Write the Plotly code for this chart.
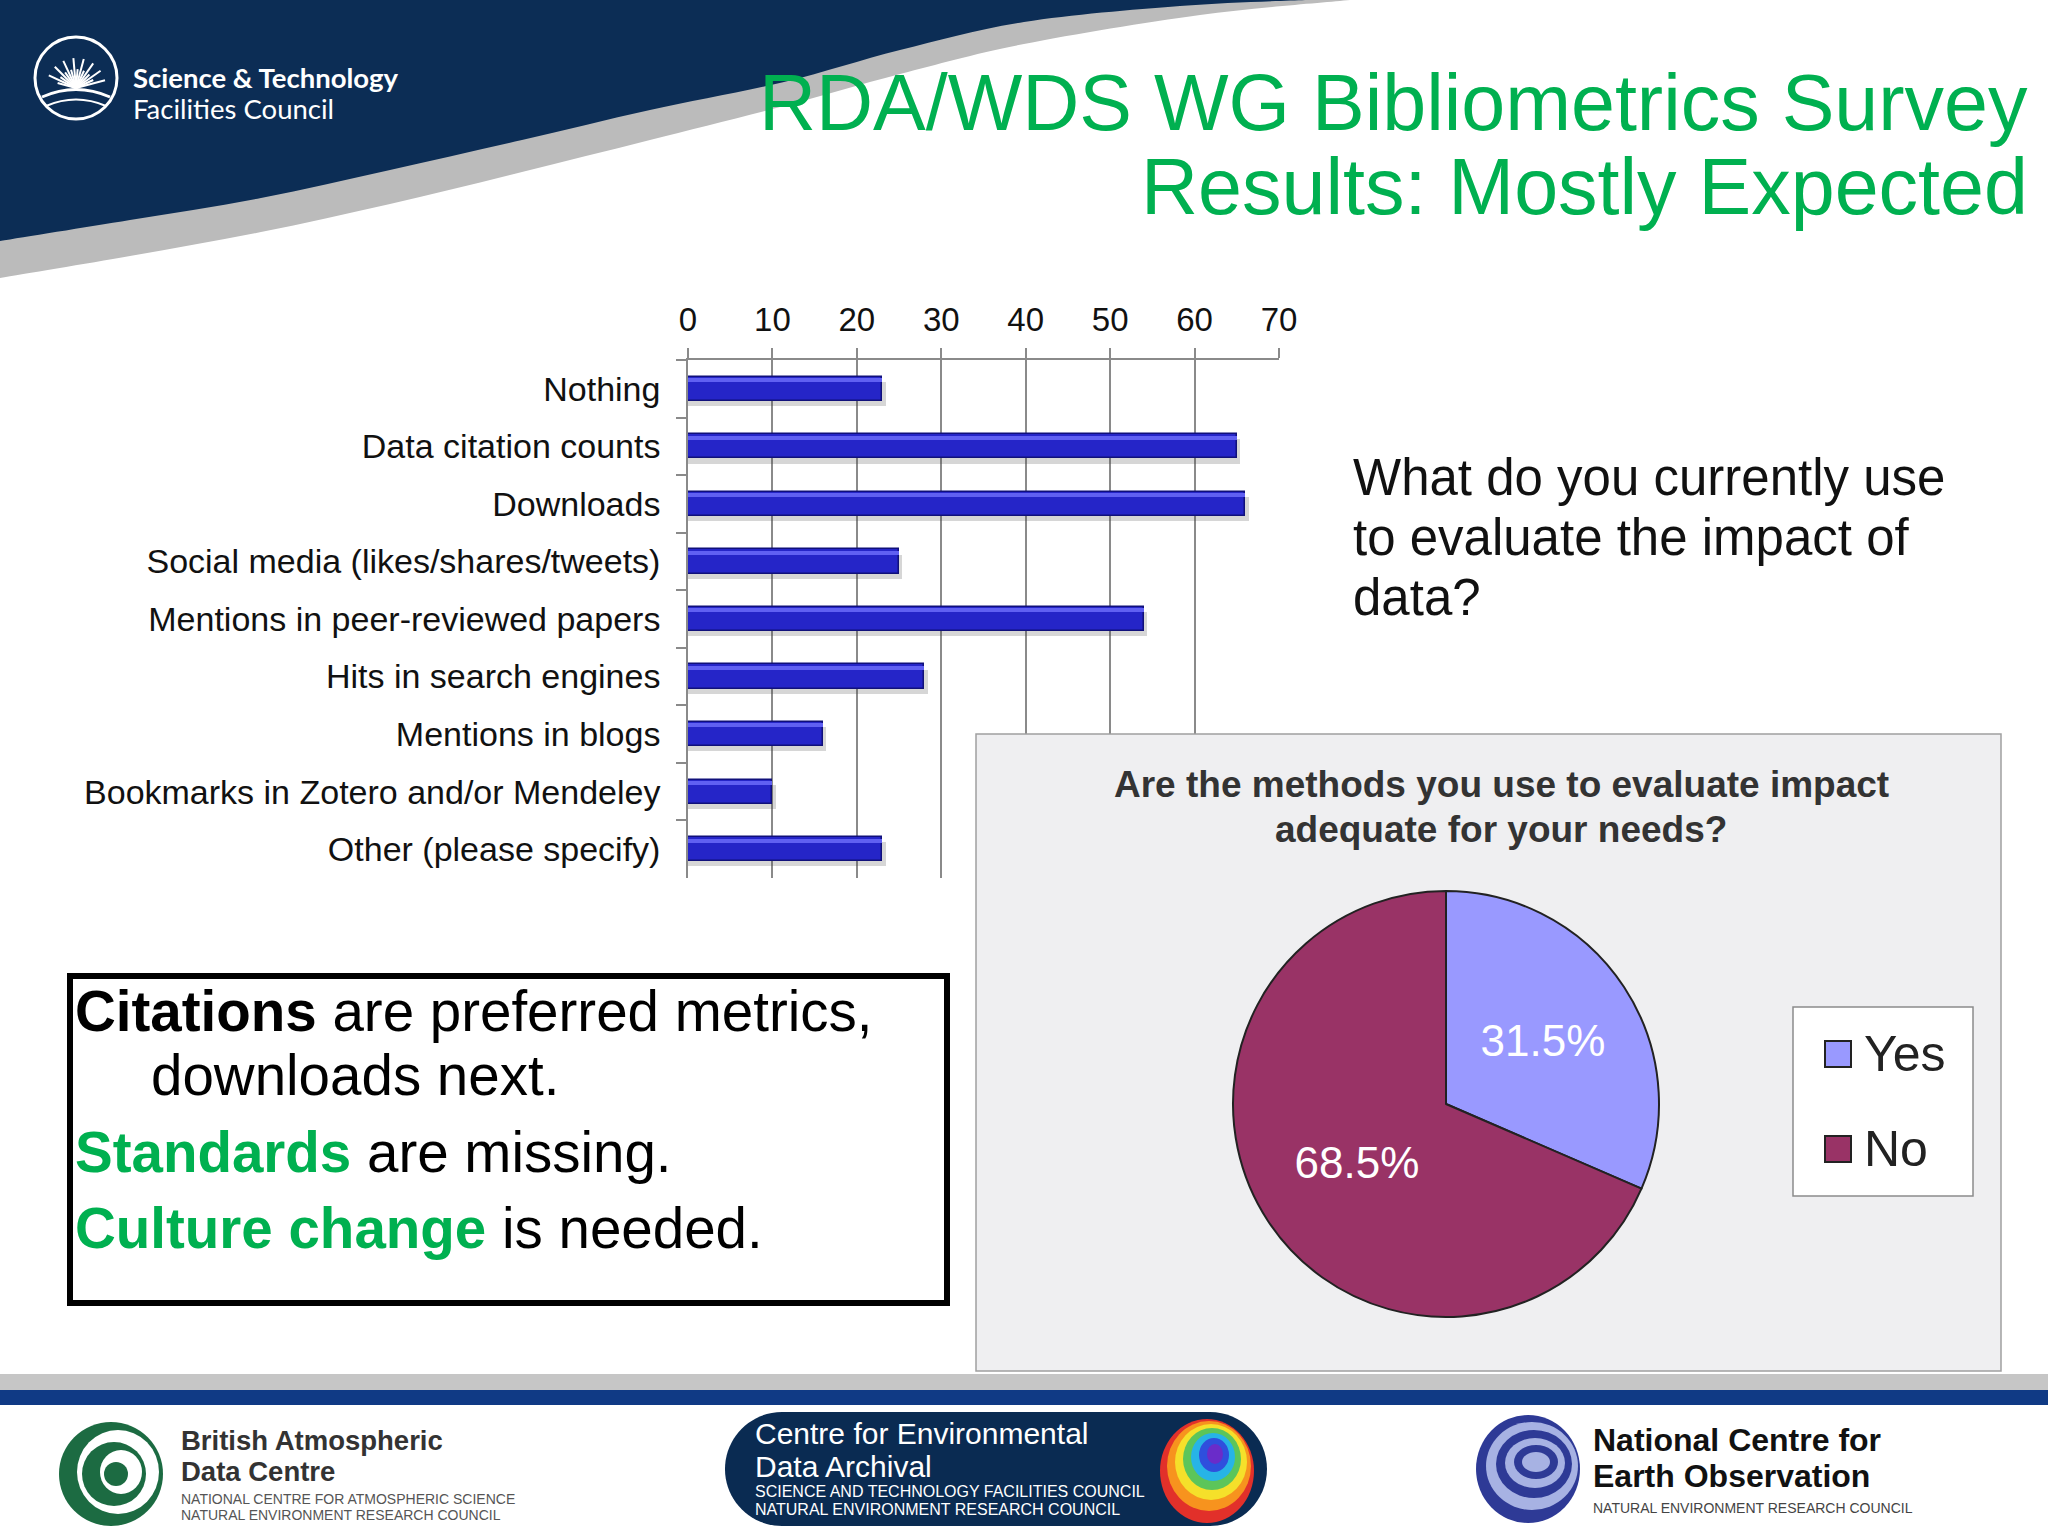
import math
import plotly.graph_objects as go

W, H = 2048, 1536

# ---------------- data ----------------
categories = [
    "Nothing",
    "Data citation counts",
    "Downloads",
    "Social media (likes/shares/tweets)",
    "Mentions in peer-reviewed papers",
    "Hits in search engines",
    "Mentions in blogs",
    "Bookmarks in Zotero and/or Mendeley",
    "Other (please specify)",
]
counts = [23, 65, 66, 25, 54, 28, 16, 10, 23]
x_tick_values = [0, 10, 20, 30, 40, 50, 60, 70]

pie_labels = ["Yes", "No"]
pie_values = [31.5, 68.5]
pie_colors = ["#9999FF", "#993366"]

title_lines = ["RDA/WDS WG Bibliometrics Survey", "Results: Mostly Expected"]
question_lines = ["What do you currently use", "to evaluate the impact of", "data?"]
pie_title_lines = ["Are the methods you use to evaluate impact", "adequate for your needs?"]
GREEN = "#00B050"
box_lines = [
    "<b>Citations</b> are preferred metrics,",
    "downloads next.",
    f"<b><span style='color:{GREEN}'>Standards</span></b> are missing.",
    f"<b><span style='color:{GREEN}'>Culture change</span></b> is needed.",
]

FONT = "Liberation Sans, Arial, sans-serif"


def fx(x):
    return x / W


def fy(y):
    return 1 - y / H


def P(x, y):
    return f"{x / W:.5f},{1 - y / H:.5f}"


def curve_path(pts):
    s = ""
    ext = [pts[0]] + pts + [pts[-1]]
    for i in range(1, len(ext) - 2):
        p0, p1, p2, p3 = ext[i - 1], ext[i], ext[i + 1], ext[i + 2]
        c1 = (p1[0] + (p2[0] - p0[0]) / 6, p1[1] + (p2[1] - p0[1]) / 6)
        c2 = (p2[0] - (p3[0] - p1[0]) / 6, p2[1] - (p3[1] - p1[1]) / 6)
        s += f" C {P(*c1)} {P(*c2)} {P(*p2)}"
    return s


shapes = []
annotations = []


def txt(x, y, text, size, color="#111111", xanchor="left", family=FONT, yanchor="middle"):
    annotations.append(dict(
        x=fx(x), y=fy(y), xref="paper", yref="paper", text=text, showarrow=False,
        xanchor=xanchor, yanchor=yanchor, align=xanchor if xanchor != "center" else "center",
        font=dict(family=family, size=size, color=color), borderpad=0,
    ))


def rect(x0, y0, x1, y1, fill="rgba(0,0,0,0)", line="rgba(0,0,0,0)", lw=0, layer="above"):
    shapes.append(dict(type="rect", xref="paper", yref="paper",
                       x0=fx(x0), x1=fx(x1), y0=fy(y1), y1=fy(y0),
                       fillcolor=fill, line=dict(color=line, width=lw), layer=layer))


def ellipse(cx, cy, rx, ry, fill="rgba(0,0,0,0)", line="rgba(0,0,0,0)", lw=0, layer="above"):
    shapes.append(dict(type="circle", xref="paper", yref="paper",
                       x0=fx(cx - rx), x1=fx(cx + rx), y0=fy(cy + ry), y1=fy(cy - ry),
                       fillcolor=fill, line=dict(color=line, width=lw), layer=layer))


def path(d, fill="rgba(0,0,0,0)", line="rgba(0,0,0,0)", lw=0, layer="above"):
    shapes.append(dict(type="path", xref="paper", yref="paper", path=d,
                       fillcolor=fill, line=dict(color=line, width=lw), layer=layer))


# ---------------- header swoosh ----------------
grey_bottom = [(1350, 0), (1200, 15), (1024, 44), (900, 74), (784, 106), (650, 140),
               (522, 172), (390, 204), (261, 232), (130, 256), (0, 278)]
navy_bottom = [(1305, 0), (1180, 6), (1024, 22), (900, 50), (784, 82), (650, 110),
               (522, 140), (390, 170), (261, 198), (130, 220), (0, 241)]
path(f"M {P(0, 0)} L {P(1350, 0)}" + curve_path(grey_bottom) + " Z", fill="#BBBBBB", layer="below")
path(f"M {P(0, 0)} L {P(1305, 0)}" + curve_path(navy_bottom) + " Z", fill="#0C2D55", layer="below")

# STFC logo
ellipse(76, 78, 41, 41, line="white", lw=3)
for i, a in enumerate(range(15, 170, 10)):
    L = 30 if i % 2 == 0 else 19
    r = math.radians(a)
    shapes.append(dict(type="line", xref="paper", yref="paper",
                       x0=fx(76), y0=fy(88), x1=fx(76 + L * math.cos(r)), y1=fy(88 - L * math.sin(r)),
                       line=dict(color="white", width=2)))
path(f"M {P(42, 97)} Q {P(76, 82)} {P(110, 97)}", line="white", lw=3)
path(f"M {P(46, 106)} Q {P(76, 93)} {P(106, 106)}", line="white", lw=2)
txt(132, 77, "<b>Science &amp; Technology</b>", 27.5, "white", family="Lato, Open Sans, sans-serif")
txt(132, 108, "Facilities Council", 27.5, "white", family="Lato, Open Sans, sans-serif")

# slide title
txt(2029, 102, title_lines[0], 79, GREEN, xanchor="right")
txt(2029, 186, title_lines[1], 79, GREEN, xanchor="right")

# question
for i, line in enumerate(question_lines):
    txt(1352, 477 + i * 60, line, 51, "#111111")

# text box
rect(70, 976, 947, 1303, line="#000000", lw=6)
txt(74, 1011, box_lines[0], 56.5, "#000000")
txt(150, 1075, box_lines[1], 56.5, "#000000")
txt(74, 1152, box_lines[2], 56.5, "#000000")
txt(74, 1228, box_lines[3], 56.5, "#000000")

# pie panel (drawn in an overlay subplot so it hides the bar-chart grid under it)
PX0, PY0, PX1, PY1 = 976, 734, 2001, 1371
pad = 4
pw, ph = PX1 - PX0, PY1 - PY0
shapes.append(dict(type="rect", xref="x2", yref="y2", x0=0, x1=1, y0=0, y1=1,
                   fillcolor="#EFEFF1", line=dict(color="#A0A0A0", width=1.5), layer="below"))

for i, line in enumerate(pie_title_lines):
    txt(1501, 784 + i * 45, f"<b>{line}</b>", 37, "#333333", xanchor="center")

# pie legend
rect(1793, 1007, 1973, 1196, fill="white", line="#8C8C8C", lw=1.5)
for i, (lab, col) in enumerate(zip(pie_labels, pie_colors)):
    yc = 1054 + i * 95
    rect(1825, yc - 13, 1851, yc + 13, fill=col, line="#222222", lw=2)
    txt(1863, yc, lab, 50, "#222222")

# footer bands
rect(0, 1374, W, 1390, fill="#C6C6C6")
rect(0, 1390, W, 1405, fill="#103A85")

# BADC logo
ellipse(111, 1474, 52, 52, fill="#1C6B42")
ellipse(118, 1472, 41, 42, fill="white")
ellipse(114, 1474, 32, 32, fill="#1C6B42")
ellipse(121, 1472, 21, 22, fill="white")
ellipse(116, 1474, 12, 12, fill="#1C6B42")
txt(180, 1440, "<b>British Atmospheric</b>", 27.5, "#333333")
txt(180, 1471, "<b>Data Centre</b>", 27.5, "#333333")
txt(180, 1499, "NATIONAL CENTRE FOR ATMOSPHERIC SCIENCE", 14, "#555555")
txt(180, 1515, "NATURAL ENVIRONMENT RESEARCH COUNCIL", 14, "#555555")

# CEDA logo
x0c, x1c, y0c, y1c = 725, 1267, 1412, 1526
r = (y1c - y0c) / 2
k = 0.5523 * r
ym = (y0c + y1c) / 2
d = (f"M {P(x0c + r, y0c)} L {P(x1c - r, y0c)} "
     f"C {P(x1c - r + k, y0c)} {P(x1c, ym - k)} {P(x1c, ym)} "
     f"C {P(x1c, ym + k)} {P(x1c - r + k, y1c)} {P(x1c - r, y1c)} "
     f"L {P(x0c + r, y1c)} "
     f"C {P(x0c + r - k, y1c)} {P(x0c, ym + k)} {P(x0c, ym)} "
     f"C {P(x0c, ym - k)} {P(x0c + r - k, y0c)} {P(x0c + r, y0c)} Z")
path(d, fill="#0A2B52")
globe = [("#E2302A", 0, 0, 47, 52), ("#F7931E", 2, -5, 42, 45), ("#F5E02A", 4, -9, 36, 38),
         ("#5CC55A", 5, -12, 29, 31), ("#27B4E6", 6, -14, 22, 24), ("#2F4FDD", 7, -16, 15, 17),
         ("#6A2CC9", 8, -17, 8, 10)]
for col, dx, dy, rx, ry in globe:
    ellipse(1207 + dx, 1471 + dy, rx, ry, fill=col)
txt(754, 1433, "Centre for Environmental", 30, "white")
txt(754, 1466, "Data Archival", 30, "white")
txt(754, 1491, "SCIENCE AND TECHNOLOGY FACILITIES COUNCIL", 16, "white")
txt(754, 1509, "NATURAL ENVIRONMENT RESEARCH COUNCIL", 16, "white")

# NCEO logo
ellipse(1528, 1469, 52, 54, fill="#2E3A96")
for j, (rx, ry, dx, dy) in enumerate([(46, 44, 4, -3), (38, 34, 6, -5), (30, 25, 7, -6),
                                       (22, 17, 8, -7), (14, 10, 8, -7)]):
    ellipse(1528 + dx, 1469 + dy, rx, ry, fill="#A7B2E3" if j % 2 == 0 else "#2E3A96")
txt(1592, 1440, "<b>National Centre for</b>", 32, "#111111")
txt(1592, 1476, "<b>Earth Observation</b>", 32, "#111111")
txt(1592, 1508, "NATURAL ENVIRONMENT RESEARCH COUNCIL", 14, "#444444")

# ---------------- traces ----------------
fig = go.Figure()
fig.add_trace(go.Bar(y=categories, x=[v + 0.4 for v in counts], orientation="h",
                     width=0.42, offset=-0.12,
                     marker=dict(color="rgba(70,70,70,0.22)", line=dict(width=0)),
                     hoverinfo="skip", showlegend=False))
fig.add_trace(go.Bar(y=categories, x=counts, orientation="h", width=0.42, offset=-0.21,
                     marker=dict(color="#2525C8", line=dict(color="#10107A", width=1.5)),
                     showlegend=False))
fig.add_trace(go.Bar(y=categories, x=counts, orientation="h", width=0.07, offset=-0.185,
                     marker=dict(color="#6060F2", line=dict(width=0)),
                     hoverinfo="skip", showlegend=False))
fig.add_trace(go.Scatter(x=[], y=[], xaxis="x2", yaxis="y2", showlegend=False, hoverinfo="skip"))

fig.add_trace(go.Pie(
    labels=pie_labels, values=pie_values, sort=False, direction="clockwise", rotation=0,
    marker=dict(colors=pie_colors, line=dict(color="#222222", width=2)),
    texttemplate="%{percent:.1%}", textposition="inside", insidetextorientation="horizontal",
    textfont=dict(family=FONT, size=44, color="white"),
    domain=dict(x=[fx(1233), fx(1659)], y=[fy(1317), fy(891)]),
    showlegend=False, hoverinfo="label+percent",
))

grid_grey = "#8A8A8A"
fig.update_layout(
    template="none",
    width=W, height=H, autosize=False,
    margin=dict(l=0, r=0, t=0, b=0, pad=0),
    paper_bgcolor="white", plot_bgcolor="rgba(0,0,0,0)",
    showlegend=False,
    barmode="overlay", bargap=0,
    font=dict(family=FONT, color="#111111"),
    xaxis=dict(domain=[fx(688), fx(1279)], range=[0, 70], side="top", anchor="y",
               tickvals=x_tick_values, showgrid=True, gridcolor=grid_grey, gridwidth=1.5,
               showline=True, linecolor=grid_grey, linewidth=1.5, zeroline=False,
               ticks="outside", ticklen=10, tickcolor=grid_grey, tickwidth=1.5, automargin=False,
               tickfont=dict(size=33, color="#111111"), ticklabelstandoff=4, fixedrange=True),
    yaxis=dict(domain=[fy(878), fy(360)], type="category", range=[8.5, -0.5], anchor="x",
               showgrid=False, showline=True, linecolor=grid_grey, linewidth=1.5, zeroline=False,
               ticks="outside", tickson="boundaries", ticklen=10, tickcolor=grid_grey, tickwidth=1.5,
               automargin=False,
               tickfont=dict(size=34, color="#111111"), ticklabelstandoff=19, fixedrange=True),
    xaxis2=dict(domain=[fx(PX0 - pad), fx(PX1 + pad)], range=[-pad / pw, 1 + pad / pw],
                anchor="y2", visible=False, fixedrange=True, automargin=False),
    yaxis2=dict(domain=[fy(PY1 + pad), fy(PY0 - pad)], range=[-pad / ph, 1 + pad / ph],
                anchor="x2", visible=False, fixedrange=True, automargin=False),
    shapes=shapes,
    annotations=annotations,
)

fig.write_html("out.html", config={"displayModeBar": False},
               post_script="document.body.style.margin='0';document.body.style.overflow='hidden';")
